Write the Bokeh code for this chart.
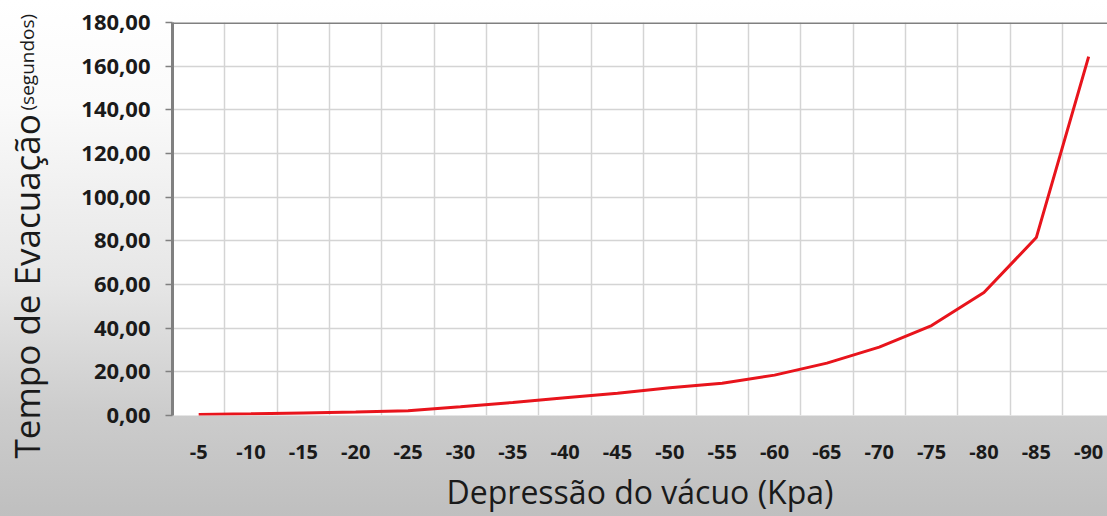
import math
from bokeh.plotting import figure
from bokeh.layouts import row
from bokeh.models import FixedTicker, Span, Range1d
from bokeh.core.properties import value
from bokeh.embed import file_html
from bokeh.resources import INLINE

categories = ["-5", "-10", "-15", "-20", "-25", "-30", "-35", "-40", "-45",
              "-50", "-55", "-60", "-65", "-70", "-75", "-80", "-85", "-90"]
tempo = [0.5, 0.8, 1.2, 1.6, 2.2, 4.0, 6.0, 8.1, 10.2,
         12.7, 14.8, 18.5, 24.0, 31.3, 41.2, 56.3, 81.5, 164.4]
y_ticks = [0, 20, 40, 60, 80, 100, 120, 140, 160, 180]
y_tick_labels = ["0,00", "20,00", "40,00", "60,00", "80,00", "100,00",
                 "120,00", "140,00", "160,00", "180,00"]
y_title = "Tempo de Evacuação"
y_title_unit = "(segundos)"
x_title = "Depressão do vácuo (Kpa)"

FONT = "Open Sans"
BG = "linear-gradient(to bottom, #ffffff 0%, #fafafa 20%, #e6e6e6 55%, #cccccc 80%, #bfbfbf 100%)"
positions = list(range(1, len(categories) + 1))

# ---- narrow panel holding the vertical y-axis title ----
LW, H = 50, 516
t = figure(width=LW, height=H, output_backend="svg", toolbar_location=None,
           x_range=Range1d(0, LW), y_range=Range1d(0, H),
           x_axis_location=None, y_axis_location=None,
           min_border=0, background_fill_color=None, border_fill_color=None,
           outline_line_color=None, styles={"background": BG})
t.frame_align = False
t.grid.visible = False
t.text(x=[26], y=[H - 458], text=[y_title], angle=math.pi / 2,
       text_align="left", text_baseline="alphabetic",
       text_font=value(FONT), text_font_size="35px", text_color="#1a1a1a")
t.text(x=[26], y=[H - 110], text=[y_title_unit], angle=math.pi / 2,
       text_align="left", text_baseline="alphabetic",
       text_font=value(FONT), text_font_size="19px", text_color="#1a1a1a")

# ---- main chart ----
p = figure(width=1107 - LW, height=H, output_backend="svg", toolbar_location=None,
           x_range=(0.5, 18.36), y_range=(0, 180),
           min_border_left=172 - LW, min_border_right=0, min_border_top=22,
           min_border_bottom=101,
           background_fill_color="white", border_fill_color=None,
           outline_line_color=None, styles={"background": BG})
p.frame_align = False

p.xgrid.ticker = FixedTicker(ticks=[i + 0.5 for i in range(0, 19)])
p.ygrid.ticker = FixedTicker(ticks=y_ticks)
p.xgrid.grid_line_color = "#d4d4d4"
p.ygrid.grid_line_color = "#d4d4d4"
p.xgrid.grid_line_width = 1.5
p.ygrid.grid_line_width = 1.5

p.xaxis.ticker = FixedTicker(ticks=positions)
p.xaxis.major_label_overrides = {pos: lab for pos, lab in zip(positions, categories)}
p.xaxis.axis_line_color = None
p.xaxis.major_tick_line_color = None
p.xaxis.minor_tick_line_color = None
p.xaxis.major_label_standoff = 23
p.xaxis.major_label_text_font = FONT
p.xaxis.major_label_text_font_style = "bold"
p.xaxis.major_label_text_font_size = "20px"
p.xaxis.major_label_text_color = "#1a1a1a"
p.xaxis.axis_label = x_title
p.xaxis.axis_label_text_font = FONT
p.xaxis.axis_label_text_font_style = "normal"
p.xaxis.axis_label_text_font_size = "32px"
p.xaxis.axis_label_text_color = "#1a1a1a"
p.xaxis.axis_label_standoff = 8

p.yaxis.ticker = FixedTicker(ticks=y_ticks)
p.yaxis.major_label_overrides = {tk: lab for tk, lab in zip(y_ticks, y_tick_labels)}
p.yaxis.axis_line_color = "#808080"
p.yaxis.axis_line_width = 3
p.yaxis.major_tick_line_color = "#808080"
p.yaxis.major_tick_line_width = 1.5
p.yaxis.major_tick_out = 7
p.yaxis.major_tick_in = 0
p.yaxis.minor_tick_line_color = None
p.yaxis.major_label_standoff = 15
p.yaxis.major_label_text_font = FONT
p.yaxis.major_label_text_font_style = "bold"
p.yaxis.major_label_text_font_size = "22px"
p.yaxis.major_label_text_color = "#1a1a1a"

p.add_layout(Span(location=180, dimension="width", line_color="#808080", line_width=3))

p.line(positions, tempo, line_color="#e8141c", line_width=3)

layout = row(t, p, spacing=0)
open("out.html", "w").write(file_html(layout, INLINE))
